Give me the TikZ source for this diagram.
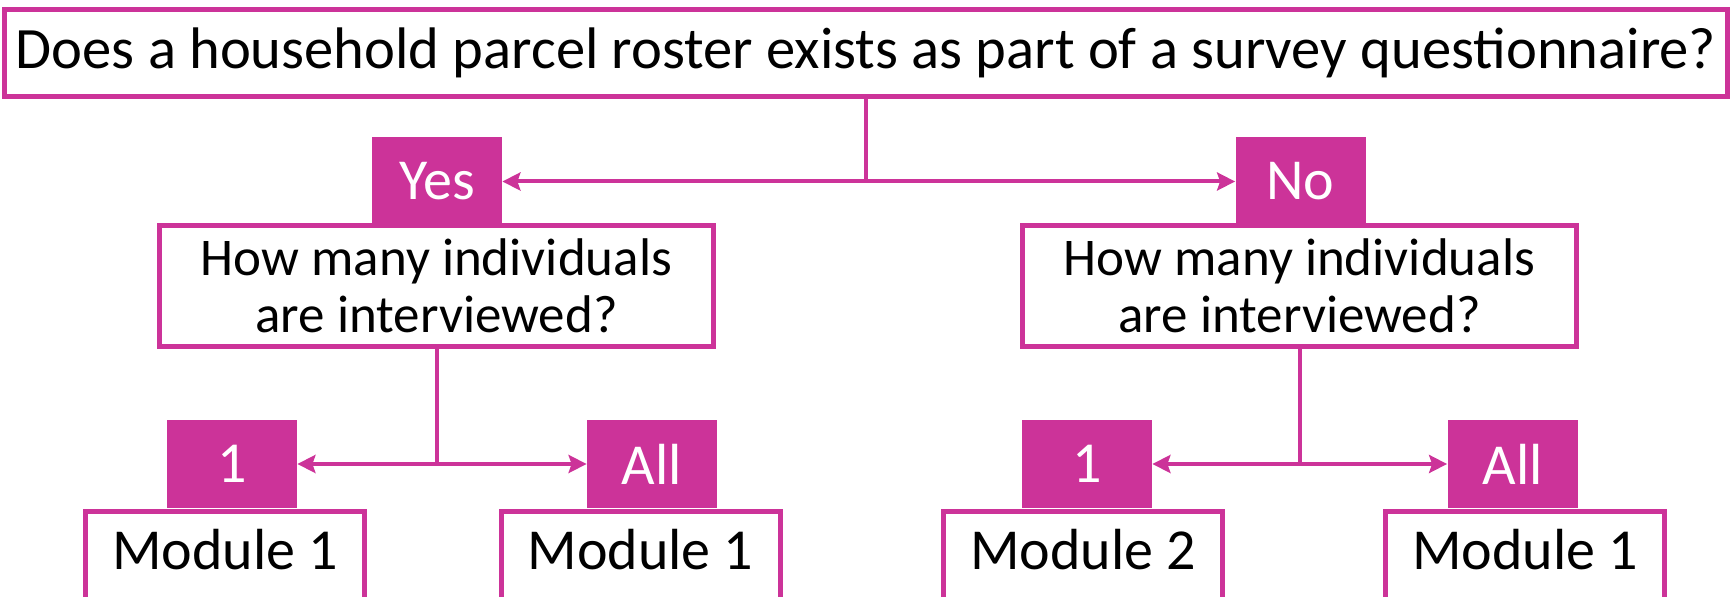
\documentclass[tikz,border=0pt]{standalone}
\usepackage{fontspec}
\setmainfont{Carlito}
\usetikzlibrary{arrows.meta}
\definecolor{roster}{RGB}{204,51,153}
\begin{document}
\begin{tikzpicture}[x=0.5pt,y=-0.5pt,
  qbox/.style={draw=roster, line width=2.5pt, fill=white, inner sep=0pt, align=center},
  tag/.style={fill=roster, text=white, inner sep=0pt, minimum width=65pt, minimum height=44pt, font=\fontsize{29}{34}\selectfont},
  link/.style={draw=roster, line width=2pt, {Stealth[length=9pt,width=9pt,inset=1.5pt]}-{Stealth[length=9pt,width=9pt,inset=1.5pt]}},
  stem/.style={draw=roster, line width=2pt},
  modbox/.style={qbox, anchor=north, minimum width=139.5pt, text height=28.75pt, text depth=40pt, font=\fontsize{29}{34}\selectfont}]
\useasboundingbox (0,0) rectangle (1732,597);

\node[qbox, minimum width=861.5pt, minimum height=43.5pt, font=\fontsize{29.3}{36}\selectfont] (top) at (866,53)
  {Does a household parcel roster exists as part of a survey questionnaire?};

\node[qbox, minimum width=277pt, minimum height=60.5pt, font=\fontsize{26.5}{28.5}\selectfont] (qyes) at (436.5,286)
  {How many individuals\\are interviewed?};
\node[qbox, minimum width=277pt, minimum height=60.5pt, font=\fontsize{26.5}{28.5}\selectfont] (qno) at (1299.5,286)
  {How many individuals\\are interviewed?};

\node[modbox] (mod11) at (225,509.5) {Module 1};
\node[modbox] (mod12) at (640.5,509.5) {Module 1};
\node[modbox] (mod21) at (1083,509.5) {Module 2};
\node[modbox] (mod22) at (1525,509.5) {Module 1};

\node[tag] (yes) at (437,181.5) {Yes};
\node[tag] (no) at (1300.5,181.5) {No};
\node[tag] (one1) at (232,464) {1};
\node[tag] (all1) at (652,464) {All};
\node[tag] (one2) at (1087,464) {1};
\node[tag] (all2) at (1512.5,464) {All};

\draw[stem] (top.south) -- (top.south |- yes.east);
\draw[link] (yes.east) -- (no.west);
\draw[stem] (qyes.south) -- (qyes.south |- one1.east);
\draw[link] (one1.east) -- (all1.west);
\draw[stem] (qno.south) -- (qno.south |- one2.east);
\draw[link] (one2.east) -- (all2.west);

\end{tikzpicture}
\end{document}
